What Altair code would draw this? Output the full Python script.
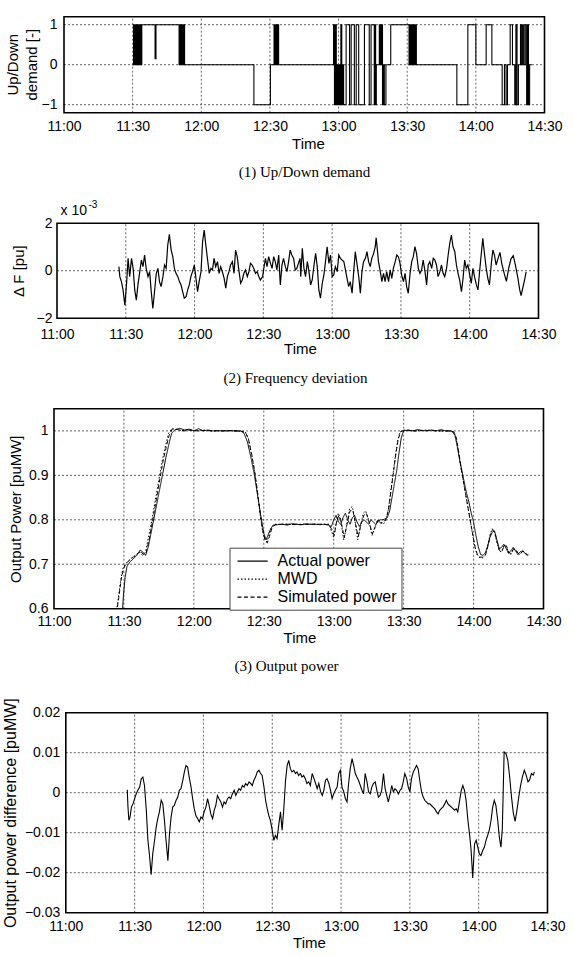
import altair as alt
import pandas as pd

# ---------------- time axis (minutes after 11:00) ----------------
time_ticks = [0, 30, 60, 90, 120, 150, 180, 210]
time_grid = [30, 60, 90, 120, 150, 180]

# ---------------- (1) Up/Down demand : step signal ----------------
ud_time = [30, 30.4, 30.8, 31.2, 31.6, 32.0, 32.3, 32.6, 33.0, 33.3, 33.7, 34.0,
           39.8, 40.2, 50.3, 50.7, 51.1, 51.5, 51.9, 52.3, 52.7, 83.0, 90.2,
           91.8, 92.2, 92.6, 93.0, 93.4, 93.8,
           117.8, 118.2, 118.6, 119.0, 119.4, 119.8, 120.2, 120.6, 121.0, 121.4, 121.8, 122.2,
           123.3, 124.8, 125.5, 126.9, 127.7, 128.8, 131.3, 133.4, 134.2, 135.6, 135.9, 136.2,
           136.5, 137.8, 138.1, 138.4, 138.7, 139.0, 139.2, 139.6, 140.0, 140.7, 142.8,
           150.8, 151.2, 151.6, 152.0, 152.4, 152.8, 153.2, 153.6, 154.0, 171.7, 176.5,
           180.0, 184.5, 187.0, 191.5, 192.5, 193.2, 193.8, 195.0, 196.0, 197.0, 197.5,
           198.0, 198.6, 199.5, 200.0, 200.5, 201.0, 201.6, 202.2, 202.6, 203.0, 203.5, 204.5]
ud_value = [0, 1, 0, 1, 0, 1, 0, 1, 0, 1, 0, 1,
            0.15, 1, 0, 1, 0, 1, 0, 1, 0, -1, 0,
            1, 0, 1, 0, 1, 0,
            1, -1, 1, -1, 0, -1, 0, -1, 1, -1, 0, -1,
            1, -1, 1, -1, 1, -1, 1, -1, 1, -1, 1, -1,
            0, 1, 0, 1, 0, 1, -1, 0, -1, 0, 1,
            0, 1, 0, 1, 0, 1, 0, 1, 0, -1, 1,
            0, 1, 0, -1, 0, -1, 0, 1, 0, -1, 1,
            -1, 0, 1, 0, 1, 0, 1, -1, 1, -1, 0, 0]
ud_ticks = [-1, 0, 1]
ud_title_lines = ["Up/Down", "demand [-]"]

# ---------------- (2) Frequency deviation (x 1e-3 pu) ----------------
fd_time = [27.0, 27.4, 28.1, 28.8, 29.6, 30.3, 31.0, 31.7, 32.5, 33.2, 33.9, 34.6, 35.3, 36.1,
           36.8, 37.5, 38.2, 38.9, 39.7, 40.4, 41.1, 41.8, 42.6, 43.3, 44.0, 44.7, 45.4, 46.2,
           46.9, 47.6, 48.3, 49.0, 49.8, 50.5, 51.2, 51.9, 52.7, 53.4, 54.1, 54.8, 55.5, 56.3,
           57.0, 57.7, 58.4, 59.1, 59.9, 60.6, 61.3, 62.0, 62.8, 63.5, 64.2, 64.9, 65.6, 66.4,
           67.1, 67.8, 68.5, 69.2, 70.0, 70.7, 71.4, 72.1, 72.9, 73.6, 74.3, 75.0, 75.7, 76.5,
           77.2, 77.9, 78.6, 79.4, 80.1, 80.8, 81.5, 82.2, 83.0, 83.7, 84.4, 85.1, 85.8, 86.6,
           87.3, 88.0, 88.7, 89.7, 90.2, 90.9, 91.6, 92.3, 93.1, 93.8, 94.5, 95.2, 95.9, 96.7,
           97.4, 98.1, 98.8, 99.6, 100.3, 101.0, 101.7, 102.4, 103.2, 103.9, 104.6, 105.3, 106.0,
           106.3, 107.0, 107.7, 108.4, 109.2, 109.9, 110.6, 111.3, 112.1, 112.8, 113.5, 114.2,
           114.9, 115.7, 116.4, 117.1, 117.8, 118.6, 119.3, 120.0, 120.7, 121.4, 122.2, 122.9,
           123.6, 124.3, 125.1, 125.8, 126.5, 127.2, 127.9, 128.7, 129.4, 130.1, 130.8, 131.6,
           132.3, 133.0, 133.7, 134.5, 135.2, 135.9, 136.6, 137.3, 138.1, 138.8, 139.2, 139.8,
           140.2, 141.0, 141.7, 142.4, 143.1, 143.8, 144.6, 145.3, 146.0, 146.7, 147.5, 148.2,
           148.9, 149.6, 150.3, 151.1, 151.8, 152.5, 153.2, 154.0, 154.7, 155.4, 156.1, 156.8,
           157.6, 158.3, 159.0, 159.7, 160.5, 161.2, 161.9, 162.6, 163.4, 164.1, 164.8, 165.5,
           166.2, 167.0, 167.7, 168.4, 169.1, 169.9, 170.6, 171.3, 172.0, 172.7, 173.5, 174.2,
           174.9, 175.6, 176.4, 177.1, 177.8, 178.5, 179.2, 180.0, 180.7, 181.4, 182.1, 182.9,
           183.6, 184.3, 185.0, 185.7, 186.5, 187.2, 187.9, 188.6, 189.5, 190.1, 190.8, 191.5,
           192.3, 193.2, 194.0, 195.0, 196.0, 197.0, 198.0, 199.0, 200.0, 201.0, 201.8, 202.4,
           203.2, 204.0, 204.6]
fd_value = [0.17, -0.25, -0.46, -0.81, -1.45, -0.60, 0.52, -0.25, 0.52, 0.10, -0.81, -1.24, -0.60, -0.04,
            0.45, 0.17, 0.66, 0.10, -0.25, -0.04, -0.88, -1.59, -0.81, -0.11, 0.10, -0.46, -0.67, -0.25,
            0.24, 0.10, 1.08, 1.53, 0.87, 0.59, 0.10, -0.11, -0.25, -0.46, -0.60, -0.88, -1.16, -1.09,
            -0.81, -0.60, -0.25, -0.04, 0.24, -0.32, -0.88, -0.46, -0.04, 1.22, 1.71, 1.08, 0.52, -0.11,
            0.10, 0.03, 0.52, 0.17, 0.38, -0.11, 0.17, -0.04, -0.32, -0.74, -0.25, -0.04, 0.24, 0.38,
            -0.11, 0.87, 0.59, -0.04, -0.53, -0.39, -0.11, 0.03, -0.25, -0.04, 0.31, 0.24, 0.10, -0.11,
            -0.04, -0.25, -0.39, -0.25, 0.10, 0.52, 0.17, 0.59, 0.31, 0.10, 0.59, 0.38, 0.03, 0.66,
            -0.60, 0.24, 0.52, 0.17, -0.04, 0.38, 0.87, 0.66, 0.52, 0.03, 0.10, 0.31, 0.52,
            -0.25, 0.94, 0.10, -0.25, 0.38, -0.04, -0.60, -0.39, 0.24, 0.73, 0.17, -0.81,
            -1.16, -0.53, -0.18, 0.38, 1.01, 0.31, 0.66, -0.25, -0.18, 0.17, -0.04, 0.66,
            0.52, 0.45, 0.38, 0.03, -0.32, -0.67, -0.46, -0.95, -0.04, 0.80, 0.31, -0.25,
            -0.95, -0.04, 0.38, 0.52, 0.80, 0.38, 0.17, 0.52, 0.73, 1.01, 1.39, 0.80,
            0.38, -0.04, -0.46, -0.11, -0.46, -0.04, -0.46, 0.03, -0.32, 0.10, 0.38, 0.66,
            0.59, 0.31, -0.18, -0.46, -0.11, -0.67, -0.95, -0.11, 0.38, 0.59, 1.01, 0.73,
            0.10, -0.11, 0.03, 0.45, -0.04, -0.60, 0.24, 0.38, 0.10, 0.52, 0.45, 0.24,
            -0.25, -0.04, 0.24, -0.11, -0.25, 0.10, 0.66, 1.15, 1.50, 1.01, 0.80, 0.24,
            -0.11, -0.39, -0.88, -0.32, 0.45, 0.10, 0.24, -0.18, -0.53, 0.10, -0.25, -0.60,
            -0.81, -0.04, 0.66, 1.36, 0.66, 0.10, -0.32, -0.60, 0.38, 0.87, 0.66, 0.24,
            0.50, 0.77, 0.30, -0.10, -0.45, 0.10, 0.50, 0.63, 0.20, -0.30, -0.80, -1.05,
            -0.70, -0.35, -0.05]
fd_ticks = [-2, 0, 2]

# ---------------- (3) Output power ----------------
series_names = ["Actual power", "MWD", "Simulated power"]
act_time = [28.8, 29.8, 30.5, 31.3, 32.5, 34, 35.5, 37, 38, 39.3, 40.5, 42, 43.5, 45, 46.5, 48, 49.5,
            50.5, 52, 54, 56, 58, 60, 62, 64, 66, 68, 70, 72, 74, 76, 78, 80, 81.5, 83, 84.5, 86,
            87.5, 89, 90, 91, 92, 93, 94, 96, 98, 100, 102, 104, 106, 108, 110, 112, 114, 116, 118,
            119, 120, 121, 122, 123, 124, 125, 126, 127, 128, 129, 130, 131, 132, 133, 134, 135,
            136, 137, 138, 139, 140, 141, 142, 143, 144, 145, 146, 147, 148, 149, 150, 152, 154,
            156, 158, 160, 162, 164, 166, 168, 170, 171, 172, 173, 174, 175, 176, 177, 178, 179,
            180, 181, 182, 183, 184, 185, 186, 187, 188, 189, 190, 191, 192, 193, 194, 195, 196,
            197, 198, 199, 200, 201, 202, 203, 203.5]
act_power = [0.55, 0.63, 0.67, 0.695, 0.705, 0.712, 0.72, 0.732, 0.728, 0.72, 0.74, 0.78, 0.82, 0.86,
             0.9, 0.94, 0.975, 0.995, 1.003, 1.006, 1.002, 1.004, 1.0, 1.005, 1.0, 1.002, 1.0, 1.001,
             1.0, 1.0, 1.001, 0.999, 1.0, 0.995, 0.975, 0.94, 0.9, 0.85, 0.8, 0.77, 0.755, 0.768, 0.78,
             0.788, 0.789, 0.79, 0.788, 0.791, 0.79, 0.789, 0.791, 0.79, 0.79, 0.789, 0.79, 0.788,
             0.785, 0.8, 0.81, 0.795, 0.79, 0.805, 0.815, 0.8, 0.79, 0.805, 0.81, 0.795, 0.785, 0.795,
             0.8, 0.795, 0.79, 0.8, 0.795, 0.79, 0.795, 0.8, 0.8, 0.802, 0.805, 0.82, 0.85, 0.88, 0.91,
             0.95, 0.985, 1.0, 1.002, 1.0, 1.003, 1.001, 1.0, 1.002, 1.0, 1.003, 1.0, 1.0, 0.998, 0.99,
             0.965, 0.935, 0.91, 0.885, 0.86, 0.84, 0.815, 0.795, 0.765, 0.74, 0.722, 0.72, 0.725, 0.74,
             0.76, 0.772, 0.775, 0.755, 0.735, 0.738, 0.745, 0.735, 0.725, 0.73, 0.738, 0.73, 0.722,
             0.728, 0.73, 0.725, 0.72, 0.722]
mwd_time = [26.4, 27.5, 28.5, 29.5, 30.5, 32, 33.5, 35, 36.5, 38, 39.3, 40.5, 42, 43.5, 45, 46.5, 48,
            49.2, 50.5, 52, 55, 58, 61, 64, 67, 70, 73, 76, 79, 82, 83.3, 84.7, 86, 87.3, 88.5, 89.5,
            90.5, 91.3, 92.2, 93.2, 94.5, 98, 102, 106, 110, 114, 118, 119, 120, 121, 122, 123, 124.3,
            125.5, 126.8, 128, 129.2, 130.3, 131.5, 132.7, 133.7, 135, 136.4, 137.6, 138.8, 140, 141.3,
            142.5, 143.5, 144.5, 145.5, 146.5, 147.5, 148.5, 150, 155, 160, 165, 170, 171.5, 172.5,
            173.5, 174.5, 175.5, 176.5, 177.5, 178.5, 179.5, 180.5, 181.5, 182.5, 183.8, 185, 186, 187,
            188, 189, 190, 191, 192, 193, 194, 195, 196, 197, 198, 199, 200, 201, 202, 203, 203.5]
mwd_power = [0.58, 0.62, 0.66, 0.69, 0.7, 0.708, 0.715, 0.72, 0.728, 0.72, 0.728, 0.76, 0.8, 0.845,
             0.89, 0.935, 0.97, 0.995, 1.005, 1.004, 1.001, 1.003, 1.0, 1.002, 1.0, 1.0, 1.001, 1.0, 1.0,
             0.998, 0.985, 0.95, 0.91, 0.86, 0.81, 0.775, 0.755, 0.75, 0.765, 0.782, 0.79, 0.79, 0.79,
             0.79, 0.79, 0.79, 0.79, 0.775, 0.76, 0.79, 0.815, 0.8, 0.755, 0.785, 0.825, 0.83, 0.795,
             0.755, 0.785, 0.815, 0.82, 0.8, 0.765, 0.78, 0.8, 0.795, 0.79, 0.8, 0.825, 0.865, 0.905,
             0.945, 0.98, 0.998, 1.002, 1.0, 1.002, 1.0, 1.0, 0.998, 0.985, 0.955, 0.92, 0.89, 0.86,
             0.83, 0.8, 0.77, 0.74, 0.722, 0.715, 0.714, 0.72, 0.74, 0.765, 0.78, 0.772, 0.75, 0.73,
             0.728, 0.742, 0.742, 0.725, 0.722, 0.735, 0.733, 0.724, 0.722, 0.73, 0.727, 0.72, 0.72]
sim_time = [26.8, 27.8, 28.8, 29.8, 31, 32.5, 34, 35.5, 37, 38.3, 39.5, 40.8, 42.2, 43.7, 45.2, 46.7,
            48.2, 49.4, 50.7, 53, 56, 59, 62, 65, 68, 71, 74, 77, 80, 82.2, 83.5, 84.9, 86.2, 87.5,
            88.7, 89.7, 90.7, 91.5, 92.4, 93.4, 94.8, 98, 102, 106, 110, 114, 118, 119.2, 120.2, 121.2,
            122.2, 123.2, 124.5, 125.7, 127, 128.2, 129.4, 130.5, 131.7, 132.9, 134, 135.2, 136.6,
            137.8, 139, 140.2, 141.5, 142.7, 143.7, 144.7, 145.7, 146.7, 147.7, 148.7, 150.2, 155, 160,
            165, 170, 171.7, 172.7, 173.7, 174.7, 175.7, 176.7, 177.7, 178.7, 179.7, 180.7, 181.7,
            182.7, 184, 185.2, 186.2, 187.2, 188.2, 189.2, 190.2, 191.2, 192.2, 193.2, 194.2, 195.2,
            196.2, 197.2, 198.2, 199.2, 200.2, 201.2, 202.2, 203.2]
sim_power = [0.59, 0.625, 0.665, 0.69, 0.702, 0.71, 0.716, 0.722, 0.73, 0.722, 0.725, 0.755, 0.795,
             0.84, 0.885, 0.93, 0.965, 0.99, 1.004, 1.003, 1.0, 1.002, 1.0, 1.001, 1.0, 1.0, 1.0, 1.001,
             1.0, 0.996, 0.98, 0.945, 0.905, 0.855, 0.805, 0.772, 0.752, 0.748, 0.762, 0.78, 0.789,
             0.79, 0.79, 0.789, 0.79, 0.79, 0.789, 0.778, 0.765, 0.795, 0.81, 0.795, 0.76, 0.79, 0.82,
             0.822, 0.79, 0.762, 0.79, 0.81, 0.815, 0.795, 0.768, 0.785, 0.8, 0.792, 0.795, 0.805,
             0.83, 0.87, 0.91, 0.95, 0.982, 0.998, 1.001, 1.0, 1.001, 1.0, 1.0, 0.997, 0.982, 0.95,
             0.915, 0.885, 0.855, 0.825, 0.795, 0.765, 0.738, 0.72, 0.716, 0.716, 0.722, 0.742, 0.765,
             0.778, 0.77, 0.748, 0.73, 0.73, 0.742, 0.74, 0.726, 0.724, 0.735, 0.732, 0.724, 0.724,
             0.73, 0.726, 0.72]
pw_ticks = [0.6, 0.7, 0.8, 0.9, 1.0]

# ---------------- (4) Output power difference ----------------
diff_time = [26.8, 27.1, 27.5, 28.0, 28.6, 29.3, 30.0, 30.7, 31.4, 32.2, 32.9, 33.6, 34.3, 35.1, 35.8,
             36.5, 37.2, 37.9, 38.7, 39.4, 40.1, 40.8, 41.6, 42.3, 43.0, 43.7, 44.5, 45.2, 45.9, 46.6,
             47.3, 48.1, 48.8, 49.5, 50.2, 51.0, 51.7, 52.4, 53.1, 53.8, 54.6, 55.3, 56.0, 56.7, 57.5,
             58.2, 58.9, 59.6, 60.3, 61.1, 61.8, 62.5, 63.2, 64.0, 64.7, 65.4, 66.1, 66.8, 67.6, 68.3,
             69.0, 69.7, 70.5, 71.2, 71.9, 72.6, 73.4, 74.1, 74.8, 75.5, 76.2, 77.0, 77.7, 78.4, 79.1,
             79.9, 80.6, 81.3, 82.0, 82.7, 83.5, 84.2, 84.9, 85.6, 86.4, 87.1, 87.8, 88.5, 89.2, 90.0,
             90.7, 91.4, 92.1, 92.9, 93.6, 94.3, 95.0, 95.8, 96.5, 97.2, 97.9, 98.6, 99.4, 100.1,
             100.8, 101.5, 102.3, 103.0, 103.7, 104.4, 105.1, 105.9, 106.6,
             107.4, 108.2, 108.9, 109.6, 110.3, 111.1, 111.8, 112.5, 113.2, 113.9, 114.7, 115.4,
             116.1, 116.8, 117.5, 118.3, 119.0, 119.7, 120.4, 121.2, 121.9, 122.6, 123.3, 124.0,
             124.8, 125.5, 126.2, 126.9, 127.6, 128.4, 129.1, 129.8, 130.5, 131.3, 132.0, 132.7,
             133.4, 134.1, 134.9, 135.6, 136.3, 137.0, 137.7, 138.5, 139.2, 139.9, 140.6, 141.4,
             142.1, 142.8, 143.5, 144.2, 145.0, 145.7, 146.4, 147.1, 147.8, 148.6, 149.3, 150.0,
             150.7, 151.5, 152.2, 152.9, 153.6, 154.3, 155.1, 155.8, 156.5, 157.2, 158.0, 158.7,
             159.4, 160.1, 160.8, 161.6, 162.3, 163.0, 163.7, 164.4, 165.2, 165.9, 166.6, 167.3,
             168.1, 168.8, 169.5, 170.2, 170.9, 171.7, 172.4, 173.1, 173.8, 174.5, 175.3, 176.0,
             176.7, 177.4, 178.2, 178.9, 179.6, 180.3, 181.0, 181.8, 182.5, 183.2, 183.9, 184.6,
             185.4, 186.1, 186.8, 187.5, 188.3, 189.0, 189.7, 190.3, 191.1, 191.9, 192.7, 193.5,
             194.3, 195.1, 195.9, 196.7, 197.5, 198.3, 199.1, 199.9, 200.7, 201.5, 202.2, 203.0,
             203.8, 204.3]
diff_value = [0.00075, -0.0036, -0.0069, -0.0061, -0.0036, -0.0028, -0.0015, -0.0003, 0.0006, 0.0014,
              0.0035, 0.0039, 0.0018, -0.0044, -0.0119, -0.0157, -0.0205, -0.0153, -0.0119, -0.0086,
              -0.0065, -0.0048, -0.0019, -0.0028, -0.0069, -0.0119, -0.017, -0.0103, -0.0061, -0.0036,
              -0.0032, -0.0019, -0.0011, 0.0006, 0.001, 0.0031, 0.0052, 0.0068, 0.0064, 0.0039, 0.0014,
              -0.0015, -0.004, -0.0057, -0.0065, -0.0073, -0.0061, -0.0065, -0.0048, -0.0036, -0.0015,
              -0.0032, -0.0053, -0.0065, -0.0044, -0.0032, -0.0007, -0.0015, -0.0023, -0.0036, -0.0023,
              -0.0028, -0.0015, -0.0011, -0.0015, -0.0003, 0.0006, -0.0007, 0.0002, 0.001, 0.0006,
              0.0018, 0.0014, 0.0023, 0.0018, 0.0027, 0.0023, 0.0018, 0.0031, 0.0039, 0.0052, 0.0056,
              0.0048, 0.0043, 0.0014, -0.0019, -0.004, -0.0057, -0.0069, -0.0094, -0.0119, -0.0107,
              -0.0115, -0.0078, -0.0048, -0.0094, -0.0044, 0.0031, 0.0068, 0.0081, 0.006, 0.0052, 0.0056,
              0.0048, 0.0052, 0.0043, 0.0048, 0.0039, 0.0043, 0.0035, 0.0023, 0.0027, 0.0018,
              0.0048, 0.0035, 0.0023, 0.001, 0.0023, 0.0002, -0.0007, 0.0006, 0.0031, 0.0035, 0.0023,
              0.0006, -0.0015, -0.0003, 0.0006, 0.0014, 0.0048, 0.0056, 0.0014, 0.0002, -0.0015,
              -0.0023, 0.0023, 0.006, 0.0085, 0.0068, 0.0048, 0.0039, 0.0031, 0.0018, 0.0006, -0.0003,
              0.0048, 0.0027, 0.0002, -0.0003, 0.0014, 0.0023, 0.0027, 0.0006, -0.0011, -0.0007,
              0.0006, 0.0048, 0.001, -0.0007, -0.0023, -0.0003, 0.0018, 0.0002, 0.001, 0.0006,
              -0.0003, 0.0006, 0.001, 0.0027, 0.0048, 0.0035, 0.0014, 0.0002, 0.0035, 0.0052, 0.006,
              0.0068, 0.006, 0.0031, 0.0002, -0.0011, -0.0019, -0.0023, -0.0028, -0.0028, -0.0032,
              -0.0036, -0.004, -0.0048, -0.0053, -0.0044, -0.004, -0.0036, -0.0028, -0.0019, -0.0028,
              -0.0032, -0.0036, -0.004, -0.0044, -0.004, -0.0048, -0.0019, 0.0006, 0.0018, 0.0006,
              -0.0019, -0.0069, -0.0103, -0.0144, -0.0213, -0.0128, -0.0119, -0.0136, -0.0153,
              -0.0157, -0.0144, -0.0136, -0.0119, -0.0107, -0.0094, -0.0069, -0.0036, -0.0019,
              -0.0032, -0.0069, -0.0111, -0.0136, -0.009, 0.0102, 0.0098, 0.0081, 0.004, -0.001,
              -0.0051, -0.0072, -0.0043, -0.001, 0.0019, 0.004, 0.0056, 0.0044, 0.0027, 0.0032,
              0.0048, 0.0044, 0.0052]
df_ticks = [-0.03, -0.02, -0.01, 0, 0.01, 0.02]

# ---------------- styling / layout ----------------
SANS = "Liberation Sans"
SERIF = "Liberation Serif"
W = 493.5
TIME_LABEL = "(floor(datum.value / 60) + 11) + ':' + (datum.value % 60 == 0 ? '00' : '30')"
GRID = dict(color="#222222", strokeWidth=0.7, strokeDash=[2, 2])
one = pd.DataFrame({"k": [0]})


def panel(lines, x_range, height, top, y_domain, y_ticks, y_grid, y_fmt, y_title,
          y_title_x, y_offset, y_label_pad, x_label_pad, x_title_x, x_title_y,
          y_title_size=15, extra=()):
    xs = alt.Scale(domain=[0, 210], range=x_range, nice=False, zero=False)
    ys = alt.Scale(domain=y_domain, range=[height, top], nice=False, zero=False)
    xa = alt.Axis(values=time_ticks, labelExpr=TIME_LABEL, title="Time", domain=False,
                  ticks=False, tickSize=0, grid=False, labelPadding=x_label_pad,
                  labelFlush=False, labelOverlap=False, titleX=x_title_x, titleY=x_title_y,
                  titleBaseline="middle", titleAlign="center")
    ya = alt.Axis(values=y_ticks, format=y_fmt, title=y_title, offset=y_offset, domain=False,
                  ticks=False, tickSize=0, grid=False, labelPadding=y_label_pad,
                  labelFlush=False, labelOverlap=False, titleX=y_title_x,
                  titleY=(height + top) / 2, titleAngle=270, titleBaseline="middle",
                  titleAlign="center", titleFontSize=y_title_size)
    X = lambda f: alt.X(f, scale=xs, axis=xa)
    Y = lambda f: alt.Y(f, scale=ys, axis=ya)
    vgrid = alt.Chart(pd.DataFrame({"g": time_grid})).mark_rule(**GRID).encode(
        x=X("g:Q"), y=alt.YDatum(y_domain[0], scale=ys, axis=ya), y2=alt.Y2Datum(y_domain[1]))
    hgrid = alt.Chart(pd.DataFrame({"g": y_grid})).mark_rule(**GRID).encode(
        y=Y("g:Q"), x=alt.XDatum(0, scale=xs, axis=xa), x2=alt.X2Datum(210))
    frame = alt.Chart(one).mark_rect(fillOpacity=0, stroke="black", strokeWidth=1.6).encode(
        x=alt.XDatum(0, scale=xs, axis=xa), x2=alt.X2Datum(210),
        y=alt.YDatum(y_domain[0], scale=ys, axis=ya), y2=alt.Y2Datum(y_domain[1]))
    layers = [vgrid, hgrid] + [mk(X, Y) for mk in lines] + [frame] + list(extra)
    return alt.layer(*layers).properties(width=W, height=height)


def label(text, x, y, font=SANS, size=15, angle=0, align="center"):
    return alt.Chart(one).mark_text(text=text, font=font, fontSize=size, align=align,
                                    baseline="middle", color="black", angle=angle).encode(
        x=alt.value(x), y=alt.value(y))


# panel 1
ud_df = pd.DataFrame({"t": ud_time, "v": ud_value})
p1 = panel(
    [lambda X, Y: alt.Chart(ud_df).mark_line(color="black", strokeWidth=1.1, interpolate="step-after",
                                             clip=True).encode(x=X("t:Q"), y=Y("v:Q"))],
    x_range=[10, 490.5], height=96, top=0, y_domain=[-1.2, 1.2], y_ticks=ud_ticks,
    y_grid=ud_ticks, y_fmt="d", y_title="", y_title_x=-41.8,
    y_offset=-10, y_label_pad=7, x_label_pad=6.5, x_title_x=254, x_title_y=30.5,
    extra=[label("(1) Up/Down demand", 250.5, 155.5, font=SERIF),
           label(ud_title_lines[0], -41.5, 48, angle=270),
           label(ud_title_lines[1], -22.5, 48, angle=270)])

# panel 2
fd_df = pd.DataFrame({"t": fd_time, "v": fd_value})
p2 = panel(
    [lambda X, Y: alt.Chart(fd_df).mark_line(color="black", strokeWidth=1.2, clip=True).encode(
        x=X("t:Q"), y=Y("v:Q"))],
    x_range=[3, 484.5], height=115.5, top=20.5, y_domain=[-2, 2], y_ticks=fd_ticks,
    y_grid=[0], y_fmt="d", y_title="\u0394 F [pu]", y_title_x=-38.5, y_offset=-3,
    y_label_pad=5, x_label_pad=9, x_title_x=246, x_title_y=30,
    extra=[label("(2) Frequency deviation", 241.5, 175.5, font=SERIF),
           label("x 10", 6.5, 8.5, size=14, align="left"),
           label("-3", 34.5, 2, size=10, align="left")])

# panel 3
pw_df = pd.concat([
    pd.DataFrame({"t": act_time, "v": act_power, "s": series_names[0]}),
    pd.DataFrame({"t": mwd_time, "v": mwd_power, "s": series_names[1]}),
    pd.DataFrame({"t": sim_time, "v": sim_power, "s": series_names[2]}),
])
dash = alt.StrokeDash("s:N", sort=series_names,
                      scale=alt.Scale(domain=series_names, range=[[1, 0], [1.5, 2], [4, 2.5]]),
                      legend=alt.Legend(title=None, orient="none", legendX=175.5, legendY=139,
                                        labelFont=SANS, labelFontSize=16, labelColor="black",
                                        symbolType="M-0.65,0H2.9", symbolSize=289,
                                        symbolStrokeWidth=1.2, symbolStrokeColor="black",
                                        symbolFillColor="transparent",
                                        padding=4, rowPadding=0, fillColor="white",
                                        strokeColor="#444444", labelOffset=25))
p3 = panel(
    [lambda X, Y: alt.Chart(pw_df).mark_line(color="black", strokeWidth=1, clip=True).encode(
        x=X("t:Q"), y=Y("v:Q"), strokeDash=dash, detail="s:N")],
    x_range=[0, 489.5], height=200, top=0, y_domain=[0.6, 1.05], y_ticks=pw_ticks,
    y_grid=[0.7, 0.8, 0.9, 1.0], y_fmt=".1~f", y_title="Output Power [puMW]",
    y_title_x=-38.2, y_offset=0, y_label_pad=6, x_label_pad=5.5, x_title_x=245.5,
    x_title_y=29, extra=[label("(3) Output power", 232.5, 257, font=SERIF)])

# panel 4
df_df = pd.DataFrame({"t": diff_time, "v": diff_value})
p4 = panel(
    [lambda X, Y: alt.Chart(df_df).mark_line(color="black", strokeWidth=1.1, clip=True).encode(
        x=X("t:Q"), y=Y("v:Q"))],
    x_range=[11.8, 493.5], height=214, top=14, y_domain=[-0.03, 0.02], y_ticks=df_ticks,
    y_grid=[-0.02, -0.01, 0, 0.01], y_fmt=".2~f", y_title="Output power difference [puMW]",
    y_title_x=-55.1, y_offset=-11.8, y_label_pad=6, x_label_pad=6.5, x_title_x=255,
    x_title_y=30, y_title_size=16)

chart = alt.vconcat(p1, p2, p3, p4, spacing=90, bounds="flush").resolve_scale(
    x="independent", y="independent", strokeDash="independent"
).properties(
    padding={"left": 2, "top": 15.7, "right": 4, "bottom": 2},
    background="white",
).configure_view(strokeWidth=0).configure_axis(
    labelFont=SANS, titleFont=SANS, labelFontSize=14, titleFontSize=15,
    labelColor="black", titleColor="black", titleFontWeight="normal"
)

chart.save("out.html", embed_options={"renderer": "svg", "actions": False})
